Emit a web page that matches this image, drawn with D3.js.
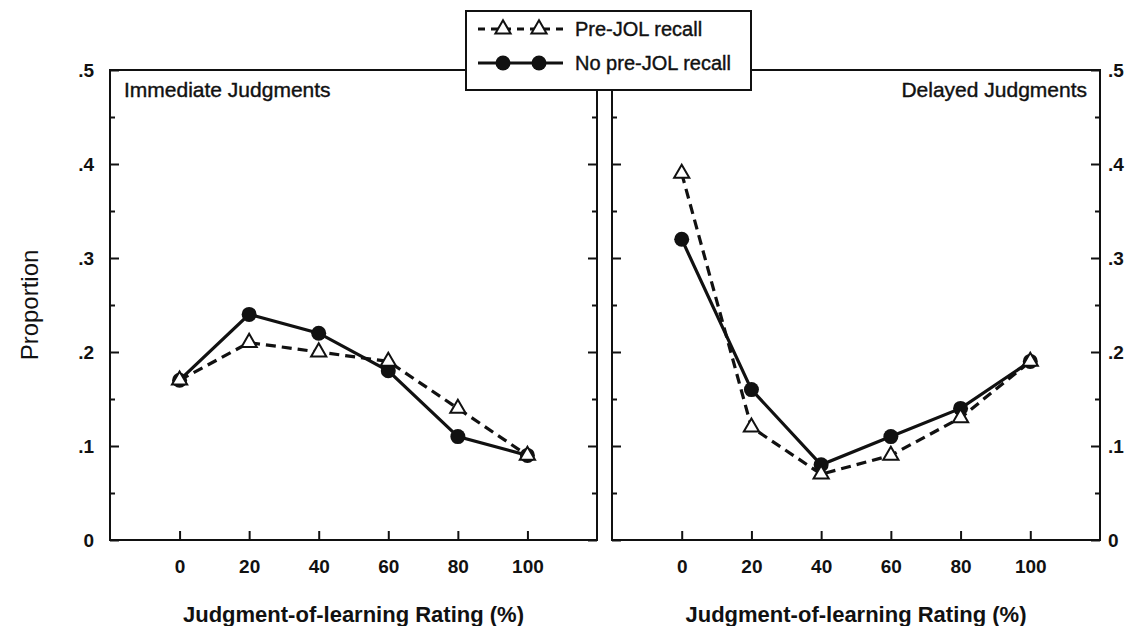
<!DOCTYPE html>
<html>
<head>
<meta charset="utf-8">
<script src="https://cdn.jsdelivr.net/npm/d3@7"></script>
<style>
body { margin: 0; background: #fff; }
text { font-family: "Liberation Sans", Arial, Helvetica, sans-serif; fill: #111; }
</style>
</head>
<body>
<script>
// JOL rating categories (x) and proportions (y)
const ratings = [0, 20, 40, 60, 80, 100];
const immediatePre = [0.17, 0.21, 0.20, 0.19, 0.14, 0.09];
const immediateNo = [0.17, 0.24, 0.22, 0.18, 0.11, 0.09];
const delayedPre = [0.39, 0.12, 0.07, 0.09, 0.13, 0.19];
const delayedNo = [0.32, 0.16, 0.08, 0.11, 0.14, 0.19];
const yMajor = [0, 0.1, 0.2, 0.3, 0.4, 0.5];
const yMinor = [0.05, 0.15, 0.25, 0.35, 0.45];
const seriesNames = ["Pre-JOL recall", "No pre-JOL recall"];

var width = 1130, height = 626;
var svg = d3.select("body").append("svg")
  .attr("width", width).attr("height", height);

var y = d3.scaleLinear().domain([0, 0.5]).range([540, 70]);
var fmt = function(d){ return d === 0 ? "0" : d3.format(".1f")(d).replace(/^0/, ""); };

var tri = d3.symbol().type(d3.symbolTriangle).size(100);

var panels = [
  {title: "Immediate Judgments", pre: immediatePre, no: immediateNo, x0: 110, x1: 597, side: "left"},
  {title: "Delayed Judgments", pre: delayedPre, no: delayedNo, x0: 612, x1: 1100, side: "right"}
];

panels.forEach(function(p){
  var x = d3.scaleLinear().domain([-20, 120]).range([p.x0, p.x1]);
  var g = svg.append("g");

  // frame
  g.append("rect").attr("x", p.x0).attr("y", y(0.5))
    .attr("width", p.x1 - p.x0).attr("height", y(0) - y(0.5))
    .attr("fill", "none").attr("stroke", "#111").attr("stroke-width", 2);

  // x axis ticks (inside)
  var xa = g.append("g").attr("transform", "translate(0," + y(0) + ")")
    .call(d3.axisBottom(x).tickValues(ratings).tickSize(-9).tickPadding(20));
  xa.select(".domain").remove();
  xa.selectAll("line").attr("stroke", "#111").attr("stroke-width", 2);
  xa.selectAll("text").attr("font-size", 19).attr("font-weight", "bold")
    .attr("font-family", "Liberation Sans, Arial, sans-serif");

  // y ticks on both sides, inward
  [["left", p.x0, d3.axisLeft], ["right", p.x1, d3.axisRight]].forEach(function(s){
    var major = g.append("g").attr("transform", "translate(" + s[1] + ",0)")
      .call(s[2](y).tickValues(yMajor).tickSize(-9).tickFormat(fmt).tickPadding(16));
    major.select(".domain").remove();
    major.selectAll("line").attr("stroke", "#111").attr("stroke-width", 2);
    major.selectAll("text").attr("font-size", 19).attr("font-weight", "bold")
      .attr("font-family", "Liberation Sans, Arial, sans-serif");
    if (s[0] !== p.side) major.selectAll("text").remove();
    if (s[0] === "right") major.selectAll("text").attr("dx", -8);
    var minor = g.append("g").attr("transform", "translate(" + s[1] + ",0)")
      .call(s[2](y).tickValues(yMinor).tickSize(-5).tickFormat(""));
    minor.select(".domain").remove();
    minor.selectAll("line").attr("stroke", "#111").attr("stroke-width", 2);
  });

  // panel title
  g.append("text")
    .attr("x", p.side === "left" ? p.x0 + 14 : p.x1 - 13)
    .attr("y", 97)
    .attr("text-anchor", p.side === "left" ? "start" : "end")
    .attr("font-size", 21).attr("stroke", "#111").attr("stroke-width", 0.4)
    .text(p.title);

  // x axis title
  g.append("text").attr("x", x(50)).attr("y", 622)
    .attr("text-anchor", "middle").attr("font-size", 22).attr("font-weight", "bold")
    .text("Judgment-of-learning Rating (%)");

  var line = d3.line().x(function(d, i){ return x(ratings[i]); }).y(function(d){ return y(d); });

  // No pre-JOL recall: solid + filled circles
  g.append("path").datum(p.no).attr("d", line)
    .attr("fill", "none").attr("stroke", "#111").attr("stroke-width", 3.2);
  g.selectAll(".dot").data(p.no).enter().append("circle")
    .attr("cx", function(d, i){ return x(ratings[i]); })
    .attr("cy", function(d){ return y(d); })
    .attr("r", 7.5).attr("fill", "#111");

  // Pre-JOL recall: dashed + open triangles
  g.append("path").datum(p.pre).attr("d", line)
    .attr("fill", "none").attr("stroke", "#111").attr("stroke-width", 3.2)
    .attr("stroke-dasharray", "10,6");
  g.selectAll(".tri").data(p.pre).enter().append("path")
    .attr("d", tri)
    .attr("transform", function(d, i){ return "translate(" + x(ratings[i]) + "," + y(d) + ")"; })
    .attr("fill", "#fff").attr("stroke", "#111").attr("stroke-width", 2);
});

// y axis title
svg.append("text").attr("transform", "translate(38,305) rotate(-90)")
  .attr("text-anchor", "middle").attr("font-size", 24)
  .text("Proportion");

// legend
var lg = svg.append("g");
lg.append("rect").attr("x", 466).attr("y", 11).attr("width", 285).attr("height", 79)
  .attr("fill", "#fff").attr("stroke", "#111").attr("stroke-width", 2);
var rows = lg.selectAll(".row").data(seriesNames).enter().append("g")
  .attr("transform", function(d, i){ return "translate(0," + (29 + i * 34) + ")"; });
rows.append("line").attr("x1", 478).attr("x2", 563).attr("y1", 0).attr("y2", 0)
  .attr("stroke", "#111").attr("stroke-width", 3.2)
  .attr("stroke-dasharray", function(d, i){ return i === 0 ? "7,6" : null; });
[503, 539].forEach(function(mx){
  rows.each(function(d, i){
    var r = d3.select(this);
    if (i === 0) {
      r.append("path").attr("d", tri).attr("transform", "translate(" + mx + ",0)")
        .attr("fill", "#fff").attr("stroke", "#111").attr("stroke-width", 2);
    } else {
      r.append("circle").attr("cx", mx).attr("cy", 0).attr("r", 7.5).attr("fill", "#111");
    }
  });
});
rows.append("text").attr("x", 575).attr("y", 7).attr("font-size", 20)
  .attr("stroke", "#111").attr("stroke-width", 0.4)
  .text(function(d){ return d; });
</script>
</body>
</html>
